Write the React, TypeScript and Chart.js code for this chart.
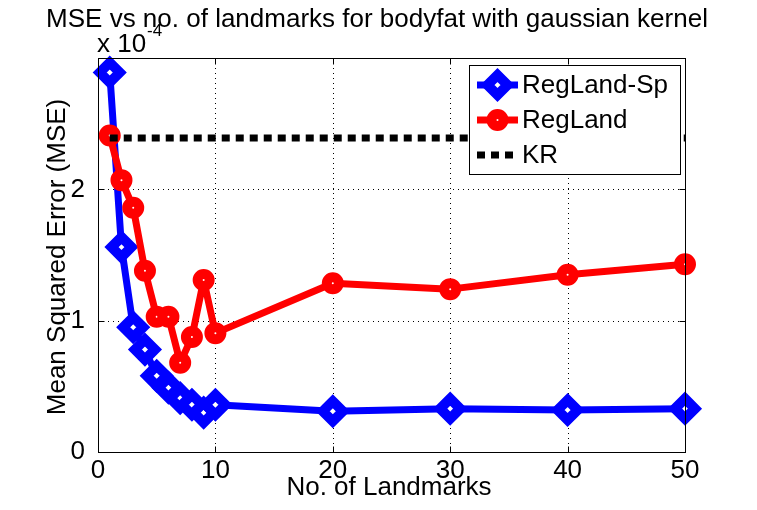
import React, { useEffect, useRef } from "react";
import { Chart, registerables } from "chart.js";

Chart.register(...registerables);

const landmarks = [1, 2, 3, 4, 5, 6, 7, 8, 9, 10, 20, 30, 40, 50];
const regLandSp = [2.89, 1.56, 0.95, 0.78, 0.58, 0.49, 0.41, 0.36, 0.3, 0.36, 0.31, 0.33, 0.32, 0.33];
const regLand = [2.41, 2.07, 1.86, 1.38, 1.03, 1.03, 0.68, 0.875, 1.31, 0.905, 1.285, 1.24, 1.35, 1.43];
const kr = [2.39, 2.39, 2.39, 2.39, 2.39, 2.39, 2.39, 2.39, 2.39, 2.39, 2.39, 2.39, 2.39, 2.39];
const xTicks = [0, 10, 20, 30, 40, 50];
const yTicks = [0, 1, 2];
const seriesNames = ["RegLand-Sp", "RegLand", "KR"];
const titleText = "MSE vs no. of landmarks for bodyfat with gaussian kernel";
const xLabel = "No. of Landmarks";
const yLabel = "Mean Squared Error (MSE)";

const FONT = '"Liberation Sans", Arial, sans-serif';
const BLUE = "#0000ff";
const RED = "#ff0000";

function drawDiamond(ctx: CanvasRenderingContext2D, x: number, y: number, r: number) {
  ctx.beginPath();
  ctx.moveTo(x - r, y);
  ctx.lineTo(x, y - r);
  ctx.lineTo(x + r, y);
  ctx.lineTo(x, y + r);
  ctx.closePath();
}

const decorPlugin = {
  id: "decor",
  beforeDatasetsDraw(chart: any) {
    const { ctx, chartArea: a, scales } = chart;
    ctx.save();
    ctx.strokeStyle = "#000";
    ctx.lineWidth = 1;
    ctx.setLineDash([1, 4]);
    xTicks.forEach((v) => {
      if (v === 0 || v === 50) return;
      const px = Math.round(scales.x.getPixelForValue(v)) + 0.5;
      ctx.beginPath();
      ctx.moveTo(px, a.top);
      ctx.lineTo(px, a.bottom);
      ctx.stroke();
    });
    yTicks.forEach((v) => {
      if (v === 0) return;
      const py = Math.round(scales.y.getPixelForValue(v)) + 0.5;
      ctx.beginPath();
      ctx.moveTo(a.left, py);
      ctx.lineTo(a.right, py);
      ctx.stroke();
    });
    ctx.restore();
  },
  afterDatasetsDraw(chart: any) {
    const { ctx, chartArea: a, scales } = chart;
    ctx.save();
    ctx.strokeStyle = "#000";
    ctx.lineWidth = 1;
    ctx.setLineDash([]);
    const L = Math.round(a.left) + 0.5;
    const R = Math.round(a.right) + 0.5;
    const T = Math.round(a.top) + 0.5;
    const B = Math.round(a.bottom) + 0.5;
    ctx.strokeRect(L, T, R - L, B - T);
    const tl = 6;
    xTicks.forEach((v) => {
      const px = Math.round(scales.x.getPixelForValue(v)) + 0.5;
      ctx.beginPath();
      ctx.moveTo(px, B);
      ctx.lineTo(px, B - tl);
      ctx.moveTo(px, T);
      ctx.lineTo(px, T + tl);
      ctx.stroke();
    });
    yTicks.forEach((v) => {
      const py = Math.round(scales.y.getPixelForValue(v)) + 0.5;
      ctx.beginPath();
      ctx.moveTo(L, py);
      ctx.lineTo(L + tl, py);
      ctx.moveTo(R, py);
      ctx.lineTo(R - tl, py);
      ctx.stroke();
    });
    ctx.restore();
  },
  afterDraw(chart: any) {
    const { ctx, chartArea: a } = chart;
    ctx.save();
    ctx.fillStyle = "#000";
    ctx.textBaseline = "alphabetic";
    // title
    ctx.font = `26px ${FONT}`;
    ctx.textAlign = "center";
    ctx.fillText(titleText, 377, 27);
    // exponent
    ctx.textAlign = "left";
    ctx.font = `26px ${FONT}`;
    ctx.fillText("x 10", a.left - 1, 52);
    ctx.font = `17px ${FONT}`;
    ctx.fillText("-4", a.left + 49, 36);
    // x label
    ctx.font = `26px ${FONT}`;
    ctx.textAlign = "center";
    ctx.fillText(xLabel, 389, 495);
    // y label
    ctx.save();
    ctx.translate(65, 257);
    ctx.rotate(-Math.PI / 2);
    ctx.fillText(yLabel, 0, 0);
    ctx.restore();

    // legend
    const bx = 469.5, by = 65.5, bw = 211, bh = 109;
    ctx.fillStyle = "#fff";
    ctx.fillRect(bx, by, bw, bh);
    ctx.strokeStyle = "#000";
    ctx.lineWidth = 1;
    ctx.strokeRect(bx, by, bw, bh);
    const rows = [85, 120, 155];
    const x0 = 477, x1 = 518, xm = 497.5;
    // blue
    ctx.lineCap = "butt";
    ctx.strokeStyle = BLUE;
    ctx.lineWidth = 7;
    ctx.beginPath();
    ctx.moveTo(x0, rows[0]);
    ctx.lineTo(x1, rows[0]);
    ctx.stroke();
    ctx.fillStyle = "#fff";
    ctx.lineWidth = 10;
    ctx.lineJoin = "miter";
    drawDiamond(ctx, xm, rows[0], 10);
    ctx.fill();
    ctx.stroke();
    // red
    ctx.strokeStyle = RED;
    ctx.lineWidth = 7;
    ctx.beginPath();
    ctx.moveTo(x0, rows[1]);
    ctx.lineTo(x1, rows[1]);
    ctx.stroke();
    ctx.lineWidth = 10;
    ctx.beginPath();
    ctx.arc(xm, rows[1], 6, 0, Math.PI * 2);
    ctx.fill();
    ctx.stroke();
    // black dashed
    ctx.strokeStyle = "#000";
    ctx.lineWidth = 7;
    ctx.setLineDash([8, 6]);
    ctx.beginPath();
    ctx.moveTo(x0, rows[2]);
    ctx.lineTo(x1, rows[2]);
    ctx.stroke();
    ctx.setLineDash([]);
    // text
    ctx.fillStyle = "#000";
    ctx.font = `26px ${FONT}`;
    ctx.textAlign = "left";
    ctx.textBaseline = "middle";
    seriesNames.forEach((n, i) => ctx.fillText(n, 522, rows[i] + 1));
    ctx.restore();
  },
};

export default function App() {
  const ref = useRef<HTMLCanvasElement | null>(null);
  useEffect(() => {
    if (!ref.current) return;
    const chart = new Chart(ref.current, {
      type: "line",
      data: {
        datasets: [
          {
            label: seriesNames[2],
            data: landmarks.map((x, i) => ({ x, y: kr[i] })),
            borderColor: "#000",
            borderWidth: 7,
            borderDash: [8, 6],
            borderCapStyle: "butt",
            pointRadius: 0,
            fill: false,
            clip: false as any,
          },
          {
            label: seriesNames[1],
            data: landmarks.map((x, i) => ({ x, y: regLand[i] })),
            borderColor: RED,
            backgroundColor: "#fff",
            borderWidth: 7,
            borderJoinStyle: "round",
            borderCapStyle: "round",
            pointStyle: "circle",
            pointRadius: 6,
            pointBorderWidth: 10,
            pointBorderColor: RED,
            pointBackgroundColor: "#fff",
            fill: false,
            clip: false as any,
          },
          {
            label: seriesNames[0],
            data: landmarks.map((x, i) => ({ x, y: regLandSp[i] })),
            borderColor: BLUE,
            backgroundColor: "#fff",
            borderWidth: 7,
            borderJoinStyle: "round",
            borderCapStyle: "round",
            pointStyle: "rectRot",
            pointRadius: 10,
            pointBorderWidth: 10,
            pointBorderColor: BLUE,
            pointBackgroundColor: "#fff",
            fill: false,
            clip: false as any,
          },
        ],
      },
      options: {
        responsive: false,
        animation: false,
        devicePixelRatio: 1,
        layout: { padding: { top: 58, right: 72, left: 0, bottom: 0 } },
        plugins: { legend: { display: false }, tooltip: { enabled: false }, title: { display: false } },
        elements: { line: { tension: 0 } },
        events: [],
        scales: {
          x: {
            type: "linear",
            min: 0,
            max: 50,
            grid: { display: false },
            border: { display: false },
            afterBuildTicks: (s: any) => {
              s.ticks = xTicks.map((v) => ({ value: v }));
            },
            afterFit: (s: any) => {
              s.height = 58;
            },
            ticks: {
              color: "#000",
              font: { family: FONT, size: 26, lineHeight: 1 },
              padding: -2,
              maxRotation: 0,
              autoSkip: false,
            },
          },
          y: {
            type: "linear",
            min: 0,
            max: 3,
            grid: { display: false },
            border: { display: false },
            afterBuildTicks: (s: any) => {
              s.ticks = yTicks.map((v) => ({ value: v }));
            },
            afterFit: (s: any) => {
              s.width = 98;
            },
            ticks: {
              color: "#000",
              font: { family: FONT, size: 26 },
              padding: 5,
              autoSkip: false,
            },
          },
        },
      } as any,
      plugins: [decorPlugin],
    });
    return () => chart.destroy();
  }, []);
  return (
    <div style={{ position: "fixed", left: 0, top: 0, width: 757, height: 510, background: "#fff" }}>
      <canvas ref={ref} width={757} height={510} style={{ width: 757, height: 510, display: "block" }} />
    </div>
  );
}
